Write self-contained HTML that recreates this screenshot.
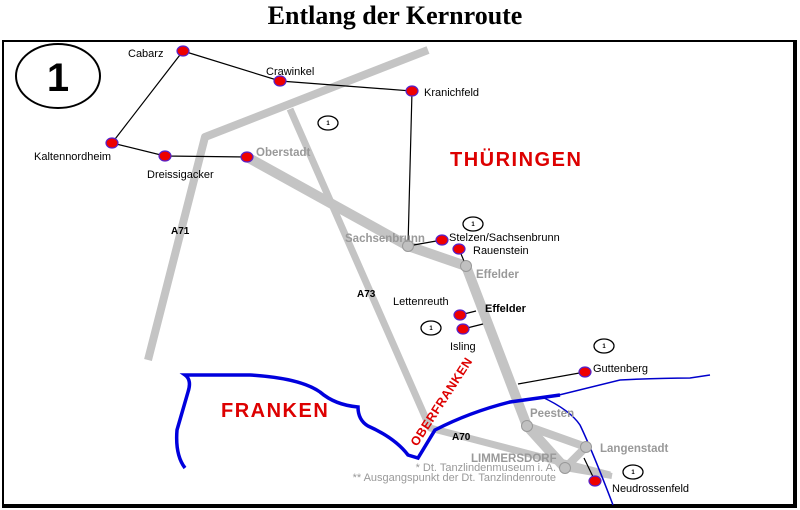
<!DOCTYPE html>
<html><head><meta charset="utf-8"><style>
body{margin:0;background:#fff;width:800px;height:510px;overflow:hidden}
svg{display:block}
text{font-family:"Liberation Sans",sans-serif}
</style></head><body>
<svg width="800" height="510" viewBox="0 0 800 510">
<text x="395" y="24" text-anchor="middle" style="font-family:'Liberation Serif',serif;font-weight:bold;font-size:26px">Entlang der Kernroute</text>
<line x1="2" y1="41" x2="797" y2="41" stroke="#000" stroke-width="2"/>
<line x1="3" y1="41" x2="3" y2="508" stroke="#000" stroke-width="2"/>
<line x1="795" y1="40" x2="795" y2="508" stroke="#000" stroke-width="4"/>
<line x1="2" y1="506" x2="797" y2="506" stroke="#000" stroke-width="4"/>
<ellipse cx="58" cy="76" rx="42" ry="32" fill="none" stroke="#000" stroke-width="2"/>
<text x="58" y="91" text-anchor="middle" font-size="40" font-weight="bold">1</text>
<g stroke="#c4c4c4" fill="none" stroke-linecap="butt" stroke-linejoin="round">
<polyline points="148,360 205,137 428,50" stroke-width="8"/>
<polyline points="290,109 430,428 610,475" stroke-width="7"/>
<polyline points="247,157 408,246 466,266 527,426 565,468" stroke-width="10"/>
<polyline points="527,426 586,447 565,468" stroke-width="8"/>
<line x1="565" y1="468" x2="612" y2="476" stroke-width="6"/>
</g>
<path d="M185,468 Q175,455 177,430 L188,392 Q192,380 185,375 L250,375 Q300,378 320,392 Q335,405 358,407 Q358,420 368,426 Q395,438 408,455 L418,458 L435,430 Q470,412 510,402 L560,395" fill="none" stroke="#0000dd" stroke-width="3.5"/>
<path d="M555,396 Q600,385 620,380 Q660,378 690,378 L710,375" fill="none" stroke="#0000cc" stroke-width="1.5"/>
<path d="M542,397 Q570,410 580,425 Q592,450 613,505" fill="none" stroke="#0000cc" stroke-width="1.5"/>
<g stroke="#000" stroke-width="1.2" fill="none">
<polyline points="112,143 183,51 280,81 412,91 408,246"/>
<polyline points="112,143 165,156 247,157"/>
<line x1="408" y1="246" x2="442" y2="240"/>
<line x1="459" y1="249" x2="466" y2="266"/>
<line x1="460" y1="315" x2="476" y2="311"/>
<line x1="463" y1="329" x2="483" y2="324"/>
<line x1="518" y1="384" x2="585" y2="372"/>
<line x1="584" y1="458" x2="595" y2="481"/>
</g>
<g fill="#c0c0c0" stroke="#999" stroke-width="1">
<circle cx="408" cy="246" r="5.5"/><circle cx="466" cy="266" r="5.5"/>
<circle cx="527" cy="426" r="5.5"/><circle cx="586" cy="447" r="5.5"/>
<circle cx="565" cy="468" r="5.5"/>
</g>
<g fill="#ee0000" stroke="#5522cc" stroke-width="1.2">
<ellipse cx="183" cy="51" rx="6" ry="5"/><ellipse cx="280" cy="81" rx="6" ry="5"/>
<ellipse cx="412" cy="91" rx="6" ry="5"/><ellipse cx="112" cy="143" rx="6" ry="5"/>
<ellipse cx="165" cy="156" rx="6" ry="5"/><ellipse cx="247" cy="157" rx="6" ry="5"/>
<ellipse cx="442" cy="240" rx="6" ry="5"/><ellipse cx="459" cy="249" rx="6" ry="5"/>
<ellipse cx="460" cy="315" rx="6" ry="5"/><ellipse cx="463" cy="329" rx="6" ry="5"/>
<ellipse cx="585" cy="372" rx="6" ry="5"/><ellipse cx="595" cy="481" rx="6" ry="5"/>
</g>
<g fill="#fff" stroke="#000" stroke-width="1.3">
<ellipse cx="328" cy="123" rx="10" ry="7"/><ellipse cx="473" cy="224" rx="10" ry="7"/>
<ellipse cx="431" cy="328" rx="10" ry="7"/><ellipse cx="604" cy="346" rx="10" ry="7"/>
<ellipse cx="633" cy="472" rx="10" ry="7"/>
</g>
<g font-size="6" font-weight="bold" text-anchor="middle">
<text x="328" y="125">1</text><text x="473" y="226">1</text><text x="431" y="330">1</text>
<text x="604" y="348">1</text><text x="633" y="474">1</text>
</g>
<g font-size="11" fill="#000">
<text x="128" y="57">Cabarz</text>
<text x="266" y="75">Crawinkel</text>
<text x="424" y="96">Kranichfeld</text>
<text x="34" y="160">Kaltennordheim</text>
<text x="147" y="178">Dreissigacker</text>
<text x="171" y="234" font-weight="bold" font-size="10">A71</text>
<text x="357" y="297" font-weight="bold" font-size="10">A73</text>
<text x="452" y="440" font-weight="bold" font-size="10">A70</text>
<text x="449" y="241">Stelzen/Sachsenbrunn</text>
<text x="473" y="254">Rauenstein</text>
<text x="393" y="305">Lettenreuth</text>
<text x="485" y="312" font-weight="bold">Effelder</text>
<text x="450" y="350">Isling</text>
<text x="593" y="372">Guttenberg</text>
<text x="612" y="492">Neudrossenfeld</text>
</g>
<g font-size="11.5" fill="#999" font-weight="bold">
<text x="256" y="156">Oberstadt</text>
<text x="345" y="242">Sachsenbrunn</text>
<text x="476" y="278">Effelder</text>
<text x="530" y="417">Peesten</text>
<text x="600" y="452">Langenstadt</text>
<text x="471" y="462">LIMMERSDORF</text>
</g>
<g font-size="11" fill="#999" text-anchor="end">
<text x="556" y="471">* Dt. Tanzlindenmuseum i. A.</text>
<text x="556" y="481">** Ausgangspunkt der Dt. Tanzlindenroute</text>
</g>
<text x="450" y="166" font-size="20" font-weight="bold" fill="#dd0000" letter-spacing="1.5">THÜRINGEN</text>
<text x="221" y="417" font-size="20" font-weight="bold" fill="#dd0000" letter-spacing="1.5">FRANKEN</text>
<text x="0" y="0" font-size="12.5" font-weight="bold" fill="#dd0000" letter-spacing="0.5" transform="translate(417,447) rotate(-57)">OBERFRANKEN</text>
</svg>
</body></html>
